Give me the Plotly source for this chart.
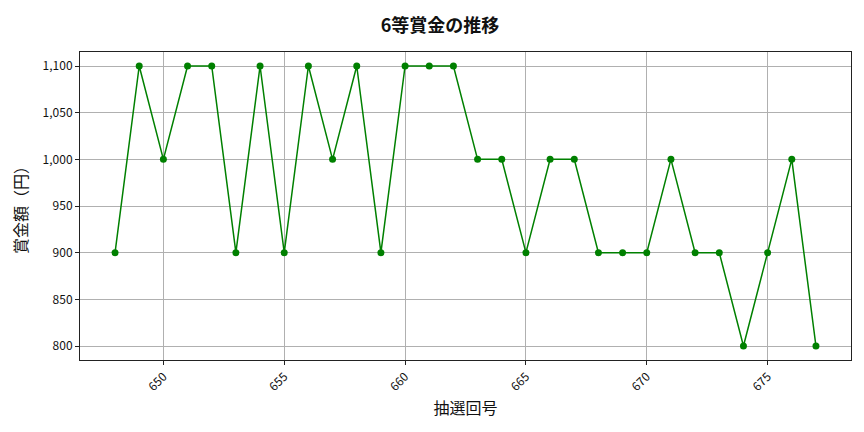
import plotly.graph_objects as go

draws = list(range(648, 678))
prize = [900, 1100, 1000, 1100, 1100, 900, 1100, 900, 1100, 1000,
         1100, 900, 1100, 1100, 1100, 1000, 1000, 900, 1000, 1000,
         900, 900, 900, 1000, 900, 900, 800, 900, 1000, 800]
x_ticks = [650, 655, 660, 665, 670, 675]
y_ticks = [800, 850, 900, 950, 1000, 1050, 1100]

font = "Noto Sans CJK JP"

fig = go.Figure(go.Scatter(
    x=draws, y=prize, mode="lines+markers",
    line=dict(color="green", width=1.5),
    marker=dict(color="green", size=7),
))

axis_common = dict(
    showgrid=True, gridcolor="#b0b0b0", gridwidth=0.8,
    showline=True, linecolor="#222", linewidth=1, mirror=True,
    ticks="outside", ticklen=4, tickcolor="#222",
    tickfont=dict(family=font, size=12, color="#111"),
    zeroline=False, automargin=False,
)

# page body adds an 8px offset, margins compensate for it
fig.update_layout(
    width=864, height=432,
    paper_bgcolor="white", plot_bgcolor="white",
    margin=dict(l=72, r=21, t=44, b=80),
    showlegend=False,
    title=dict(text="<b>6等賞金の推移</b>", x=0.5, xanchor="center", y=0.973,
               font=dict(family=font, size=18, color="#111")),
    xaxis=dict(axis_common, range=[646.55, 678.45], tickvals=x_ticks,
               tickangle=-45,
               title=dict(text="抽選回号", font=dict(family=font, size=16, color="#111"),
                          standoff=9)),
    yaxis=dict(axis_common, range=[785, 1115], tickvals=y_ticks,
               tickformat=",d",
               title=dict(text="賞金額（円）", font=dict(family=font, size=16, color="#111"),
                          standoff=19)),
)

fig.write_html("out.html")
